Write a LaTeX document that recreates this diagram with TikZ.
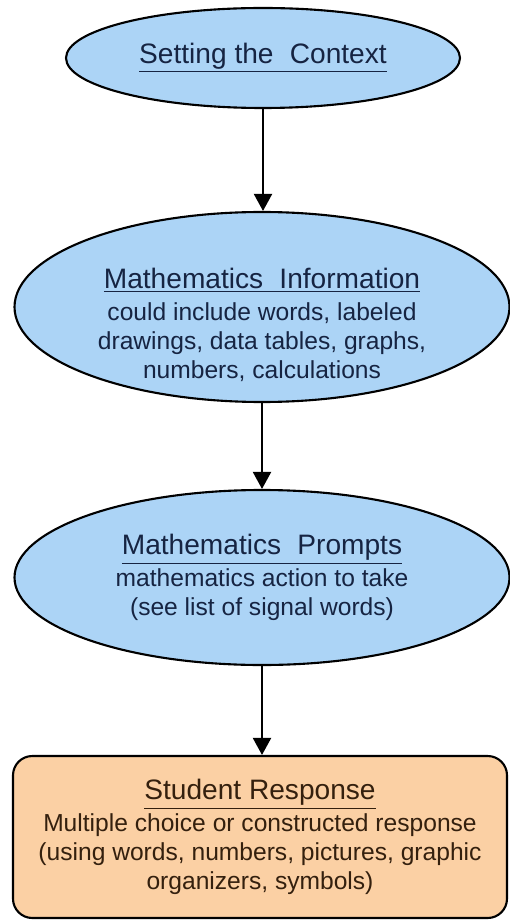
\documentclass[tikz,border=0pt]{standalone}
\usepackage{fontspec}
\setmainfont{Liberation Sans}
\usepackage{tikz}
\usetikzlibrary{arrows.meta,positioning,shapes.geometric}
\definecolor{ovalblue}{RGB}{172,212,246}
\definecolor{ovaltext}{RGB}{22,36,66}
\definecolor{boxpeach}{RGB}{251,208,164}
\definecolor{boxtext}{RGB}{52,32,14}
\newcommand{\headtxt}[1]{{\fontsize{16}{16.5}\selectfont\underline{#1}}}
\tikzset{
  oval/.style={ellipse, draw=black, line width=1.2pt, fill=ovalblue, inner sep=0pt},
  ovaltxt/.style={align=center, text=ovaltext, font=\fontsize{14}{16.5}\selectfont},
  resp/.style={draw=black, line width=1.2pt, fill=boxpeach, rounded corners=11pt,
               align=center, text=boxtext, font=\fontsize{14}{16.5}\selectfont},
  flowarr/.style={-{Triangle[length=3.4mm, width=3.6mm]}, line width=1.2pt, black},
}
\begin{document}
\begin{tikzpicture}[x=1cm,y=1cm]
  \useasboundingbox (0,0) rectangle (10.18,-18.4);
  \node[oval, ovaltxt, minimum width=7.88cm, minimum height=2.0cm] (ctx) at (5.26,-1.16)
    {\headtxt{Setting the\hspace{0.3em} Context}};
  \node[oval, minimum width=9.9cm, minimum height=3.8cm] (info) at (5.24,-6.14) {};
  \node[ovaltxt] (infotxt) at (5.24,-6.5)
    {\headtxt{Mathematics\hspace{0.3em} Information}\\[1.5pt]could include words, labeled\\drawings, data tables, graphs,\\numbers, calculations};
  \node[oval, ovaltxt, minimum width=9.9cm, minimum height=3.5cm] (prompt) at (5.24,-11.55)
    {\headtxt{Mathematics\hspace{0.3em} Prompts}\\[1.5pt]mathematics action to take\\(see list of signal words)};
  \node[resp, minimum width=9.88cm, minimum height=3.24cm] (student) at (5.2,-16.74)
    {\headtxt{Student Response}\\[1.5pt]Multiple choice or constructed response\\(using words, numbers, pictures, graphic\\organizers, symbols)};
  \draw[flowarr] (ctx.south) -- (ctx.south |- info.north);
  \draw[flowarr] (info.south) -- (info.south |- prompt.north);
  \draw[flowarr] (prompt.south) -- (prompt.south |- student.north);
\end{tikzpicture}
\end{document}
